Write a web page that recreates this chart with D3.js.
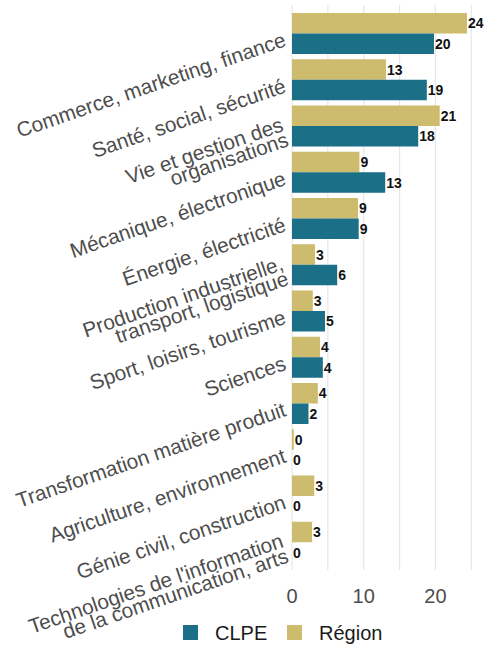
<!DOCTYPE html>
<html>
<head>
<meta charset="utf-8">
<script src="https://cdn.jsdelivr.net/npm/d3@7"></script>
<style>
  body { margin: 0; background: #fff; }
  svg { display: block; font-family: Arial, "Liberation Sans", sans-serif; }
</style>
</head>
<body>
<div class="canvas"></div>
<script>
/**
 * Data
 */
const categories = [
  "Commerce, marketing, finance",
  "Santé, social, sécurité",
  "Vie et gestion des\norganisations",
  "Mécanique, électronique",
  "Énergie, électricité",
  "Production industrielle,\ntransport, logistique",
  "Sport, loisirs, tourisme",
  "Sciences",
  "Transformation matière produit",
  "Agriculture, environnement",
  "Génie civil, construction",
  "Technologies de l'information\nde la communication, arts"
]
const series = ["Région", "CLPE"]
const region = [24.4, 13.1, 20.6, 9.4, 9.2, 3.2, 2.9, 3.9, 3.6, 0.25, 3.1, 2.8]
const clpe = [19.8, 18.8, 17.6, 13.0, 9.3, 6.3, 4.6, 4.3, 2.3, 0, 0, 0]
const xTicks = [0, 10, 20]
const gridTicks = [0, 5, 10, 15, 20, 25]
const legendOrder = ["CLPE", "Région"]

/**
 * Dimension setup
 */
const dims = { width: 485, height: 646 }
const plot = { left: 292, right: 477, top: 13, bottom: 562.75 }

const svg = d3.select(".canvas")
  .append("svg")
  .attr("width", dims.width)
  .attr("height", dims.height)

const color = d3.scaleOrdinal()
  .domain(series)
  .range(["#cdbb6e", "#1b6f87"])

const x = d3.scaleLinear()
  .domain([0, 25.8])
  .range([plot.left, plot.right])

const y = d3.scaleBand()
  .domain(categories)
  .range([plot.top, plot.bottom])
  .paddingInner(0.1135)
  .paddingOuter(0)

const ySub = d3.scaleBand()
  .domain(series)
  .range([0, y.bandwidth()])

const rows = categories.map((c, i) => ({
  name: c,
  values: [
    { key: "Région", value: region[i] },
    { key: "CLPE", value: clpe[i] }
  ]
}))

// grid lines
svg.append("g")
  .selectAll("line")
  .data(gridTicks)
  .join("line")
    .attr("x1", d => x(d))
    .attr("x2", d => x(d))
    .attr("y1", 5)
    .attr("y2", 570)
    .attr("stroke", "#e6e6e6")
    .attr("stroke-width", 1.2)

// bars
const groups = svg.append("g")
  .selectAll("g")
  .data(rows)
  .join("g")
    .attr("transform", d => `translate(0,${y(d.name)})`)

groups.selectAll("rect")
  .data(d => d.values)
  .join("rect")
    .attr("x", x(0))
    .attr("y", d => ySub(d.key))
    .attr("width", d => x(d.value) - x(0))
    .attr("height", ySub.bandwidth())
    .attr("fill", d => color(d.key))

groups.selectAll("text")
  .data(d => d.values)
  .join("text")
    .attr("x", d => x(d.value) + 1)
    .attr("y", d => ySub(d.key) + ySub.bandwidth() / 2)
    .attr("dy", "0.36em")
    .attr("font-size", 14)
    .attr("font-weight", "bold")
    .attr("fill", "#111")
    .text(d => Math.round(d.value))

// category labels (rotated, possibly two lines)
const labels = svg.append("g")
  .selectAll("text")
  .data(categories)
  .join("text")
    .attr("transform", d => `translate(285,${y(d) + y.bandwidth() / 2 + 5.5}) rotate(-19)`)
    .attr("text-anchor", "end")
    .attr("font-size", 20.8)
    .attr("fill", "#4d4d4d")

labels.each(function(d) {
  const lines = d.split("\n")
  d3.select(this).selectAll("tspan")
    .data(lines)
    .join("tspan")
      .attr("x", 0)
      .attr("y", (l, i) => (i - (lines.length - 1) / 2) * 16 + 7)
      .text(l => l)
})

// x axis tick labels
svg.append("g")
  .selectAll("text")
  .data(xTicks)
  .join("text")
    .attr("x", d => x(d))
    .attr("y", 603)
    .attr("text-anchor", "middle")
    .attr("font-size", 20)
    .attr("fill", "#4d4d4d")
    .text(d => d)

// legend
const legendPos = { CLPE: 183, "Région": 287 }
const legend = svg.append("g")
  .selectAll("g")
  .data(legendOrder)
  .join("g")
    .attr("transform", d => `translate(${legendPos[d]},625)`)

legend.append("rect")
  .attr("width", 15)
  .attr("height", 15)
  .attr("fill", d => color(d))

legend.append("text")
  .attr("x", 32)
  .attr("y", 14.5)
  .attr("font-size", 20)
  .attr("fill", "#1a1a1a")
  .text(d => d)
</script>
</body>
</html>
